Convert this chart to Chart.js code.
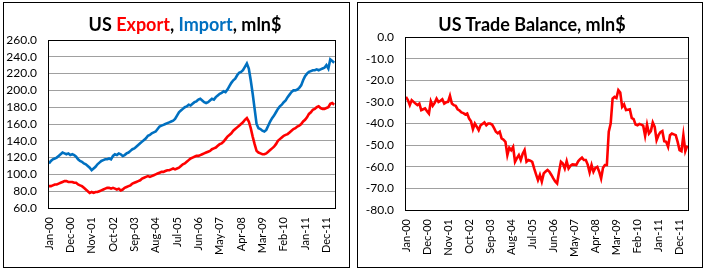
<!DOCTYPE html>
<html lang="en">
<head>
<meta charset="utf-8" />
<script src="https://cdn.jsdelivr.net/npm/chart.js@4.4.1/dist/chart.umd.min.js"></script>
<style>
  body { margin: 0; width: 708px; height: 270px; background: #fff; position: relative; overflow: hidden; font-family: Lato, "Liberation Sans", sans-serif; }
  .panel { position: absolute; top: 2px; height: 266px; border: 1px solid #000; box-sizing: border-box; background: #fff; }
  #p1 { left: 3px; width: 347px; }
  #p2 { left: 357px; width: 346px; }
  .panel canvas { position: absolute; left: 0; top: 0; }
  .title { position: absolute; top: 11px; right: 0; text-align: center; font: bold 18px Lato, sans-serif; line-height: 20px; color: #000; }
</style>
</head>
<body>
<div class="panel" id="p1">
  <canvas id="left" width="345" height="264"></canvas>
  <div class="title" style="left:17px">US <span style="color:#ff0000">Export</span>, <span style="color:#0070c0">Import</span>, mln$</div>
</div>
<div class="panel" id="p2">
  <canvas id="right" width="344" height="264"></canvas>
  <div class="title" style="left:4px">US Trade Balance, mln$</div>
</div>
<script>
// monthly categories Jan-00 .. Apr-12
const monthNames = ["Jan","Feb","Mar","Apr","May","Jun","Jul","Aug","Sep","Oct","Nov","Dec"];
const months = [];
for (let y = 0; y <= 12; y++) {
  for (let m = 0; m < 12; m++) {
    if (y === 12 && m > 3) break;
    months.push(monthNames[m] + "-" + String(y).padStart(2, "0"));
  }
}
const labelEvery = 11;

// values (bn$, labelled mln$ in the original)
const exportVals = [
  86, 86, 87, 88, 88, 89, 90, 91, 92, 92, 91, 91,
  91, 90, 90, 88, 87, 86, 84, 82, 80, 78, 79, 78,
  79, 79, 80, 81, 82, 83, 84, 84, 83, 84, 83, 82,
  83, 81, 82, 84, 85, 86, 87, 89, 90, 91, 92, 93,
  95, 96, 97, 98, 97, 98, 99, 100, 101, 102, 103, 103,
  104, 105, 105, 106, 107, 106, 107, 108, 110, 112, 113, 115,
  117, 119, 120, 121, 122, 122, 123, 124, 125, 126, 127, 128,
  130, 131, 132, 134, 136, 137, 139, 142, 145, 147, 149, 152,
  154, 156, 158, 160, 162, 165, 167, 163, 155, 145, 136, 128,
  126, 125, 124, 124, 125, 127, 129, 131, 133, 136, 140, 142,
  144, 146, 147, 148, 150, 152, 154, 155, 157, 158, 160, 163,
  165, 168, 172, 174, 177, 178, 180, 181, 179, 178, 178, 179,
  180, 184, 185, 183
];
const importVals = [
  113, 116, 118, 119, 120, 122, 124, 126, 125, 124, 125, 123,
  124, 123, 121, 118, 116, 115, 113, 112, 110, 108, 105, 107,
  109, 112, 114, 116, 117, 118, 118, 119, 118, 122, 124, 123,
  125, 124, 122, 123, 125, 126, 128, 130, 131, 133, 135, 137,
  139, 141, 143, 146, 147, 149, 150, 151, 154, 157, 158, 159,
  160, 161, 162, 163, 164, 166, 170, 174, 176, 178, 180, 181,
  183, 182, 184, 186, 187, 189, 190, 188, 186, 185, 186, 188,
  190, 189, 192, 194, 196, 197, 199, 198, 201, 205, 209, 212,
  214, 218, 221, 222, 224, 228, 232, 226, 212, 196, 178, 160,
  155, 154, 152, 151, 153, 158, 163, 167, 170, 174, 178, 181,
  183, 186, 188, 192, 195, 198, 200, 200, 201, 203, 206, 212,
  217, 220, 222, 223, 224, 224, 225, 224, 225, 226, 227, 230,
  226, 237, 235, 233
];
const balanceVals = [
  -27.7, -29.2, -31.5, -29.2, -30.0, -30.8, -31.5, -30.8, -33.8, -33.4, -33.0, -34.3,
  -35.4, -29.7, -31.8, -30.5, -28.5, -30.0, -29.5, -28.8, -30.8, -30.2, -30.0, -27.2,
  -30.8, -31.5, -31.8, -33.4, -34.0, -34.9, -35.2, -35.8, -35.4, -37.7, -39.0, -42.6,
  -40.0, -41.5, -43.1, -40.8, -40.2, -39.5, -40.8, -40.0, -40.0, -40.5, -42.0, -43.8,
  -44.5, -43.8, -46.9, -47.5, -48.5, -54.6, -51.2, -52.3, -50.8, -57.7, -56.0, -54.6,
  -56.9, -54.0, -52.3, -57.7, -56.9, -57.2, -57.7, -60.8, -63.5, -66.2, -63.8, -66.9,
  -63.1, -62.2, -61.5, -62.3, -63.8, -65.4, -66.8, -67.7, -62.3, -57.7, -58.5, -60.8,
  -57.4, -60.8, -59.5, -58.9, -59.0, -59.2, -57.5, -56.5, -55.8, -56.9, -56.9, -59.0,
  -62.6, -59.2, -62.3, -60.5, -60.0, -62.3, -65.4, -60.5, -59.2, -59.2, -43.8, -40.0,
  -28.5, -27.7, -28.2, -24.6, -25.7, -32.3, -31.2, -33.8, -33.6, -33.4, -37.4, -38.0,
  -40.5, -40.8, -40.2, -40.5, -41.0, -45.7, -40.5, -44.6, -43.5, -39.5, -41.5, -47.7,
  -45.4, -44.0, -43.5, -48.2, -48.5, -50.8, -45.4, -44.6, -45.0, -45.4, -48.5, -52.3,
  -52.8, -45.4, -52.8, -50.3
];

// black frame round the plot area
const frame = {
  id: "frame",
  afterDraw(chart) {
    const a = chart.chartArea, ctx = chart.ctx;
    ctx.save();
    ctx.strokeStyle = "#000";
    ctx.lineWidth = 1;
    ctx.strokeRect(Math.round(a.left) + 0.5, Math.round(a.top) + 0.5, Math.round(a.right - a.left), Math.round(a.bottom - a.top));
    ctx.restore();
  }
};

function makeChart(id, datasets, yMin, yMax, yStep, yWidth, xHeight, pad) {
  return new Chart(document.getElementById(id), {
    type: "line",
    data: { labels: months, datasets: datasets },
    options: {
      responsive: false,
      animation: false,
      layout: { padding: pad },
      plugins: { legend: { display: false }, tooltip: { enabled: false } },
      elements: { point: { radius: 0 }, line: { borderWidth: 2.6, tension: 0 } },
      scales: {
        x: {
          offset: true,
          grid: { display: false, drawTicks: false },
          border: { display: false },
          ticks: {
            autoSkip: false, maxRotation: 90, minRotation: 90, padding: 9,
            color: "#000", font: { family: "Lato", size: 11 },
            callback: (v, i) => (i % labelEvery === 0 ? months[i] : null)
          },
          afterFit: s => { s.height = xHeight; }
        },
        y: {
          min: yMin, max: yMax,
          grid: { color: "#a0a0a0", drawTicks: false },
          border: { display: false },
          ticks: {
            stepSize: yStep, autoSkip: false, padding: 11, color: "#000",
            font: { family: "Lato", size: 12 },
            callback: v => v.toFixed(1)
          },
          afterFit: s => { s.width = yWidth; }
        }
      }
    },
    plugins: [frame]
  });
}

makeChart("left", [
  { data: exportVals, borderColor: "#ff0000" },
  { data: importVals, borderColor: "#0070c0" }
], 60, 260, 20, 44, 59, { top: 37, right: 13, left: 0, bottom: 0 });

makeChart("right", [
  { data: balanceVals, borderColor: "#ff0000" }
], -80, 0, 10, 47, 57, { top: 34, right: 8, left: 0, bottom: 0 });
</script>
</body>
</html>
